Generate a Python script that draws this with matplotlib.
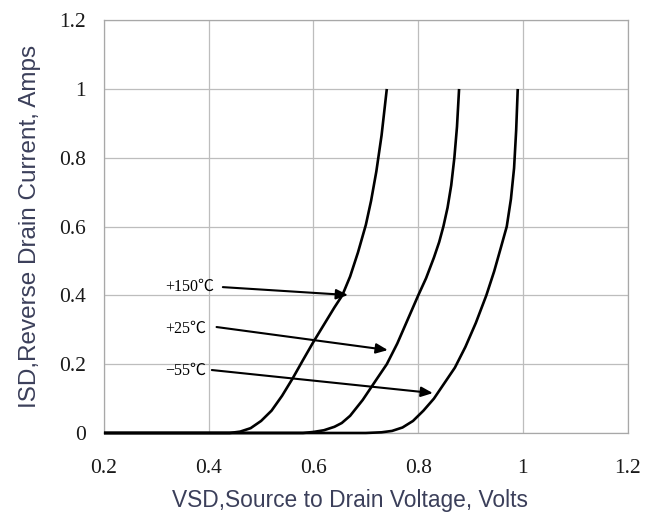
import matplotlib
matplotlib.use("Agg")
import matplotlib.pyplot as plt

# Datos (VSD en voltios, ISD en amperios)
v_150 = [0.20, 0.44, 0.46, 0.48, 0.50, 0.52, 0.54, 0.56, 0.58, 0.60, 0.62, 0.64, 0.655, 0.67, 0.685, 0.70, 0.71, 0.72, 0.73, 0.74]
i_150 = [0.0, 0.0, 0.004, 0.014, 0.035, 0.065, 0.108, 0.158, 0.212, 0.265, 0.315, 0.365, 0.40, 0.455, 0.525, 0.605, 0.675, 0.76, 0.865, 1.0]

v_25 = [0.20, 0.58, 0.60, 0.62, 0.64, 0.654, 0.67, 0.694, 0.72, 0.74, 0.76, 0.78, 0.80, 0.815, 0.83, 0.84, 0.848, 0.856, 0.863, 0.869, 0.874, 0.878]
i_25 = [0.0, 0.0, 0.003, 0.008, 0.018, 0.029, 0.05, 0.096, 0.155, 0.20, 0.26, 0.33, 0.40, 0.45, 0.51, 0.555, 0.60, 0.655, 0.72, 0.80, 0.89, 1.0]

v_m55 = [0.20, 0.70, 0.73, 0.75, 0.77, 0.79, 0.81, 0.83, 0.85, 0.87, 0.89, 0.91, 0.93, 0.945, 0.958, 0.969, 0.977, 0.983, 0.987, 0.990]
i_m55 = [0.0, 0.0, 0.002, 0.006, 0.016, 0.035, 0.065, 0.10, 0.145, 0.19, 0.25, 0.32, 0.40, 0.47, 0.54, 0.60, 0.68, 0.77, 0.88, 1.0]

x_ticks = [0.2, 0.4, 0.6, 0.8, 1.0, 1.2]
x_labels = ['0.2', '0.4', '0.6', '0.8', '1', '1.2']
y_ticks = [0, 0.2, 0.4, 0.6, 0.8, 1.0, 1.2]
y_labels = ['0', '0.2', '0.4', '0.6', '0.8', '1', '1.2']

etiquetas = ['+150℃', '+25℃', '−55℃']
pos_texto = [(0.316, 0.424), (0.316, 0.302), (0.316, 0.180)]
inicio_flecha = [(0.427, 0.424), (0.415, 0.308), (0.406, 0.183)]
punta_flecha = [(0.666, 0.401), (0.742, 0.241), (0.828, 0.116)]

fig = plt.figure(figsize=(6.58, 5.17), dpi=100)
ax = fig.add_axes([0.158, 0.1625, 0.796, 0.7985])

for v, i in [(v_150, i_150), (v_25, i_25), (v_m55, i_m55)]:
    ax.plot(v, i, color='black', lw=1.9, solid_capstyle='butt', solid_joinstyle='round',
            zorder=3, clip_on=False)

ax.set_xlim(0.2, 1.2)
ax.set_ylim(0, 1.2)
ax.set_xticks(x_ticks)
ax.set_xticklabels(x_labels)
ax.set_yticks(y_ticks)
ax.set_yticklabels(y_labels)
ax.grid(True, color='#bdbdbd', lw=0.9)
ax.set_axisbelow(True)
for s in ax.spines.values():
    s.set_color('#a8a8a8')
    s.set_linewidth(0.9)
ax.tick_params(length=0, labelsize=15.5, labelcolor='#1a1a1a')
ax.tick_params(axis='x', pad=19)
ax.tick_params(axis='y', pad=13)
for lab in ax.get_xticklabels() + ax.get_yticklabels():
    lab.set_fontfamily('Liberation Serif')

color_eje = '#3b3f5a'
ax.set_xlabel('VSD,Source to Drain Voltage, Volts', fontsize=16.4, color=color_eje,
              family='Liberation Sans')
ax.xaxis.set_label_coords(0.469, -0.135)
ax.set_ylabel('ISD,Reverse Drain Current, Amps', fontsize=17.5, color=color_eje,
              family='Liberation Sans', labelpad=13)

# Etiquetas de temperatura con flechas
for txt, p, a, b in zip(etiquetas, pos_texto, inicio_flecha, punta_flecha):
    ax.text(p[0], p[1], txt, fontsize=11.5, va='center', ha='left',
            family=['Liberation Serif', 'Noto Sans CJK SC', 'DejaVu Sans'])
    ax.annotate('', xy=b, xytext=a,
                arrowprops=dict(arrowstyle='-|>,head_length=0.7,head_width=0.3',
                                color='black', lw=1.5, shrinkA=0, shrinkB=0))

fig.savefig('out.png', dpi=100, facecolor='white')
